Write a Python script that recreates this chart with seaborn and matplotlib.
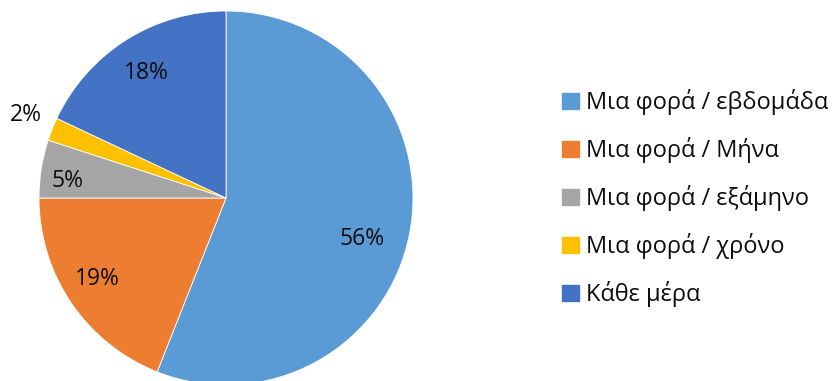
import numpy as np
import matplotlib
matplotlib.use("Agg")
import matplotlib.pyplot as plt
import seaborn as sns

sns.set_theme(style="white")
plt.rcParams["font.family"] = ["Open Sans", "DejaVu Sans"]

categories = ["Μια φορά / εβδομάδα", "Μια φορά / Μήνα", "Μια φορά / εξάμηνο",
              "Μια φορά / χρόνο", "Κάθε μέρα"]
shares = [56, 19, 5, 2, 18]
colors = ["#5B9BD5", "#ED7D31", "#A5A5A5", "#FFC000", "#4472C4"]

# radial position of each percentage label (fraction of radius) and angular nudge
label_radius = [0.76, 0.81, 0.85, 1.16, 0.79]
label_shift = [-6, -2, 3, -1, 0]

W, H = 834, 381
fig = plt.figure(figsize=(W / 100, H / 100), dpi=100)
cx, cy, r = 226, 183, 187  # centre measured from bottom in px
ax = fig.add_axes([(cx - r) / W, (cy - r) / H, 2 * r / W, 2 * r / H])

wedges, _ = ax.pie(shares, colors=colors, startangle=90, counterclock=False,
                   wedgeprops=dict(edgecolor="white", linewidth=0.6))
ax.set_aspect("equal")
ax.set_xlim(-1, 1)
ax.set_ylim(-1, 1)

for w, v, rad, sh in zip(wedges, shares, label_radius, label_shift):
    mid = np.deg2rad((w.theta1 + w.theta2) / 2 + sh)
    ax.text(rad * np.cos(mid), rad * np.sin(mid), f"{v}%", ha="center", va="center",
            fontsize=16.5, color="#0d0d0d", clip_on=False)

handles = [plt.Rectangle((0, 0), 1, 1, color=c) for c in colors]
leg = fig.legend(handles, categories, loc="center left", bbox_to_anchor=(553 / W, 1 - 198 / H),
                 frameon=False, fontsize=17, handlelength=0.68, handleheight=0.68,
                 handletextpad=0.3, labelspacing=0.93, borderaxespad=0)
for t in leg.get_texts():
    t.set_color("#0d0d0d")

fig.savefig("out.png", dpi=100)
